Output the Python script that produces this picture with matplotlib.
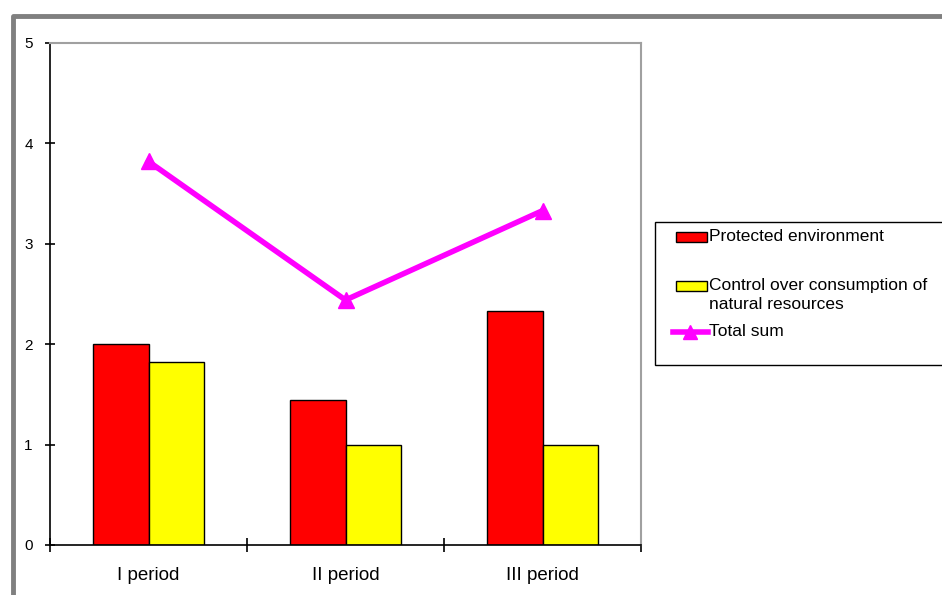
import matplotlib.pyplot as plt
from matplotlib.lines import Line2D
from matplotlib.patches import Rectangle
import numpy as np

plt.rcParams['font.family'] = ['Liberation Sans', 'DejaVu Sans']

periods = ['I period', 'II period', 'III period']
protected = [2.0, 1.44, 2.33]
control = [1.82, 1.0, 1.0]
total = [p + c for p, c in zip(protected, control)]

W, H = 942, 595
fig = plt.figure(figsize=(W / 100, H / 100), dpi=100)


def fx(x):
    return x / W


def fy(y):
    return 1 - y / H


# plot area in pixel bounds
ax = fig.add_axes([fx(50), fy(545), fx(641) - fx(50), fy(43) - fy(545)])

x = np.arange(len(periods))
bw = 0.284
ax.bar(x - bw / 2, protected, bw, color='#ff0000', edgecolor='black', linewidth=1)
ax.bar(x + bw / 2, control, bw, color='#ffff00', edgecolor='black', linewidth=1)
ax.plot(x, total, color='#ff00ff', linewidth=4, marker='^', markersize=11,
        markeredgecolor='#ff00ff')

ax.set_xlim(-0.5, 2.5)
ax.set_ylim(0, 5)
ax.set_yticks(range(6))
ax.set_xticks([-0.5, 0.5, 1.5, 2.5])
ax.set_xticklabels([])
ax.set_xticks(x, minor=True)
ax.set_xticklabels(periods, minor=True, fontsize=13.5)
ax.tick_params(axis='x', which='minor', length=0, pad=16)
ax.tick_params(axis='x', which='major', direction='inout', length=10, width=1.2)
ax.tick_params(axis='y', direction='inout', length=7, width=1.2, labelsize=11, pad=9)

for s in ['top', 'right']:
    ax.spines[s].set_color('#a0a0a0')
    ax.spines[s].set_linewidth(1.5)
for s in ['left', 'bottom']:
    ax.spines[s].set_color('black')
    ax.spines[s].set_linewidth(1.2)

# legend drawn in figure pixels
fig.patches.append(Rectangle((fx(655), fy(365)), fx(960) - fx(655), fy(222) - fy(365),
                             transform=fig.transFigure, facecolor='white',
                             edgecolor='black', linewidth=1))
fig.patches.append(Rectangle((fx(676), fy(242)), fx(31), fy(232) - fy(242),
                             transform=fig.transFigure, facecolor='#ff0000',
                             edgecolor='black', linewidth=1))
fig.patches.append(Rectangle((fx(676), fy(291)), fx(31), fy(281) - fy(291),
                             transform=fig.transFigure, facecolor='#ffff00',
                             edgecolor='black', linewidth=1))
fig.lines.append(Line2D([fx(673), fx(708)], [fy(332), fy(332)], transform=fig.transFigure,
                        color='#ff00ff', linewidth=4))
fig.lines.append(Line2D([fx(690)], [fy(332)], transform=fig.transFigure, marker='^',
                        markersize=10, color='#ff00ff'))
leg_kw = dict(fontsize=12.5, va='center', ha='left', color='black')
fig.text(fx(709), fy(237), 'Protected environment', **leg_kw)
fig.text(fx(709), fy(295), 'Control over consumption of\nnatural resources',
         linespacing=1.3, **leg_kw)
fig.text(fx(709), fy(332), 'Total sum', **leg_kw)

# outer gray frame
fig.lines.append(Line2D([fx(13), fx(13), fx(W)], [fy(H), fy(16), fy(16)],
                        transform=fig.transFigure, color='#808080', linewidth=3.5))

fig.savefig('out.png', dpi=100)
